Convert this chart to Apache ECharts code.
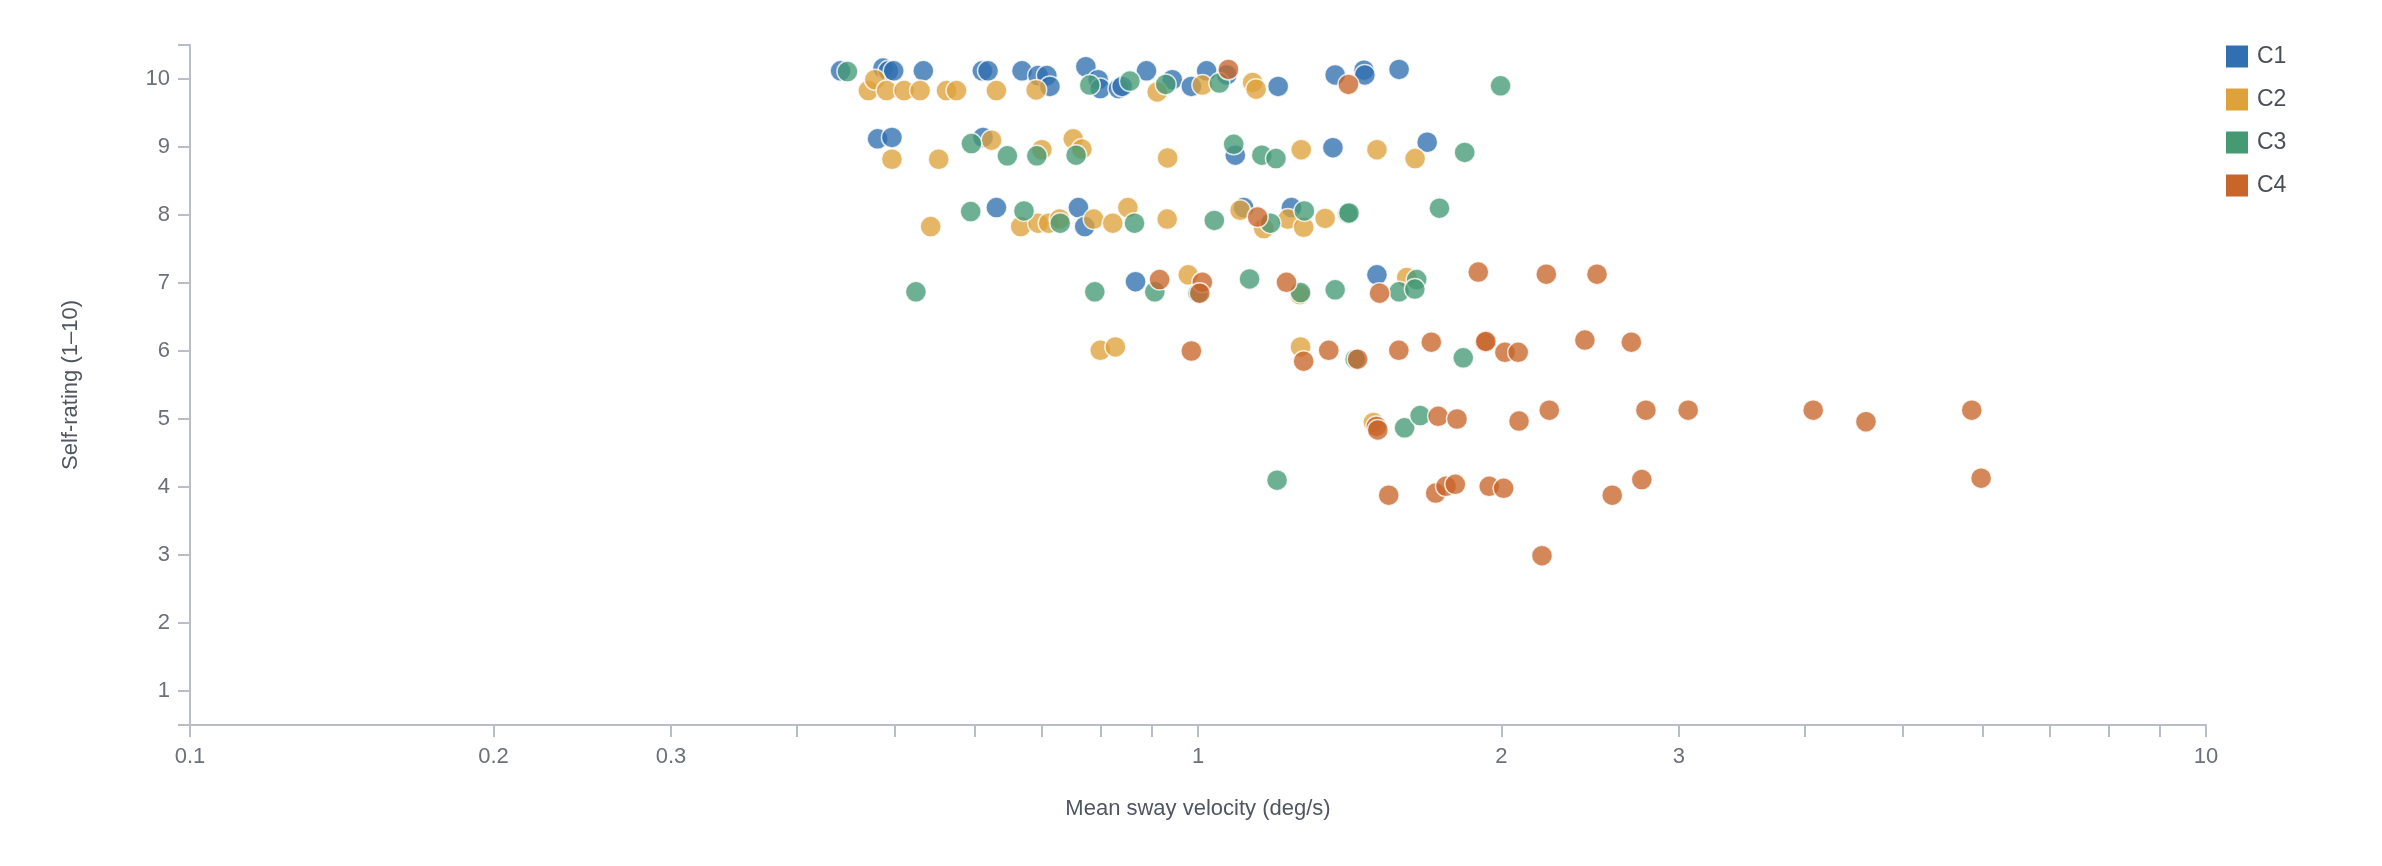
<!DOCTYPE html>
<html>
<head>
<meta charset="utf-8">
<title>Self-rating vs mean sway velocity</title>
<script src="https://cdn.jsdelivr.net/npm/echarts@6/dist/echarts.min.js"></script>
<style>
  html, body { margin: 0; padding: 0; background: #fff; }
  #chart { width: 2382px; height: 866px; }
</style>
</head>
<body>
<div id="chart"></div>
<script>
// groups shown in the legend
const seriesNames = ['C1', 'C2', 'C3', 'C4'];
const seriesColors = ['#3070b0', '#dea23a', '#459a74', '#c8652a'];

// [mean sway velocity (deg/s), self-rating]
const c1 = [
  [0.442, 10.12], [0.487, 10.16], [0.493, 10.12], [0.499, 10.12], [0.534, 10.12],
  [0.611, 10.12], [0.619, 10.12], [0.669, 10.12], [0.694, 10.05], [0.708, 10.05],
  [0.713, 9.89], [0.774, 10.18], [0.796, 9.99], [0.800, 9.86], [0.834, 9.86],
  [0.841, 9.89], [0.889, 10.12], [0.943, 9.99], [0.985, 9.89], [1.020, 10.12],
  [1.068, 10.06], [1.201, 9.89], [1.368, 10.06], [1.461, 10.13], [1.464, 10.06],
  [1.583, 10.14],
  [0.481, 9.12], [0.497, 9.14], [0.612, 9.14], [1.089, 8.88], [1.361, 8.99], [1.688, 9.07],
  [0.631, 8.11], [0.761, 8.11], [0.772, 7.83], [1.110, 8.11], [1.238, 8.11],
  [0.867, 7.02], [1.505, 7.12]
];
const c2 = [
  [0.471, 9.83], [0.478, 9.99], [0.491, 9.83], [0.511, 9.83], [0.530, 9.83],
  [0.563, 9.83], [0.576, 9.83], [0.631, 9.83], [0.691, 9.84], [0.911, 9.81],
  [1.010, 9.91], [1.133, 9.95], [1.142, 9.85],
  [0.497, 8.82], [0.553, 8.82], [0.624, 9.10], [0.700, 8.96], [0.752, 9.12],
  [0.767, 8.97], [0.933, 8.84], [1.266, 8.96], [1.505, 8.96], [1.642, 8.83],
  [0.543, 7.83], [0.667, 7.83], [0.694, 7.88], [0.711, 7.88], [0.729, 7.94],
  [0.788, 7.94], [0.823, 7.88], [0.852, 8.11], [0.932, 7.94], [1.101, 8.07],
  [1.162, 7.80], [1.228, 7.94], [1.273, 7.82], [1.337, 7.95],
  [0.978, 7.12], [1.262, 6.83], [1.611, 7.08],
  [0.800, 6.01], [0.828, 6.06], [1.264, 6.06],
  [1.493, 4.95]
];
const c3 = [
  [0.449, 10.11], [0.781, 9.91], [0.856, 9.97], [0.929, 9.92], [1.050, 9.94], [1.996, 9.90],
  [0.596, 9.05], [0.647, 8.87], [0.692, 8.87], [0.757, 8.88], [1.085, 9.04],
  [1.157, 8.88], [1.195, 8.83], [1.839, 8.92],
  [0.595, 8.05], [0.672, 8.06], [0.730, 7.88], [0.865, 7.88], [1.038, 7.92],
  [1.180, 7.88], [1.275, 8.06], [1.408, 8.02], [1.412, 8.03], [1.736, 8.10],
  [0.525, 6.87], [0.790, 6.87], [0.906, 6.87], [1.000, 6.85], [1.125, 7.06],
  [1.264, 6.86], [1.368, 6.90], [1.583, 6.87], [1.648, 7.05], [1.641, 6.91],
  [1.432, 5.88], [1.833, 5.90],
  [1.603, 4.87], [1.661, 5.05],
  [1.198, 4.10]
];
const c4 = [
  [1.072, 10.14], [1.410, 9.92],
  [1.146, 7.97],
  [0.916, 7.05], [1.010, 7.01], [1.004, 6.85], [1.224, 7.01], [1.514, 6.85],
  [1.897, 7.16], [2.216, 7.13], [2.488, 7.13],
  [0.985, 6.00], [1.273, 5.85], [1.348, 6.01], [1.440, 5.88], [1.582, 6.01],
  [1.704, 6.13], [1.926, 6.13], [1.930, 6.14], [2.016, 5.98], [2.078, 5.98],
  [2.420, 6.16], [2.691, 6.13],
  [1.503, 4.89], [1.508, 4.84], [1.731, 5.04], [1.807, 5.00], [2.082, 4.97],
  [2.231, 5.13], [2.782, 5.13], [3.064, 5.13], [4.077, 5.13], [4.599, 4.96], [5.856, 5.13],
  [1.546, 3.88], [1.721, 3.91], [1.762, 4.01], [1.800, 4.04], [1.945, 4.01],
  [2.010, 3.98], [2.576, 3.88], [2.756, 4.11], [5.983, 4.13],
  [2.194, 2.99]
];

// axis ticks
const xTickValues = [0.1, 0.2, 0.3, 0.4, 0.5, 0.6, 0.7, 0.8, 0.9, 1, 2, 3, 4, 5, 6, 7, 8, 9, 10];
const xLabelValues = [0.1, 0.2, 0.3, 1, 2, 3, 10];
const yTickValues = [0.5, 1, 2, 3, 4, 5, 6, 7, 8, 9, 10, 10.5];
const yLabelValues = [1, 2, 3, 4, 5, 6, 7, 8, 9, 10];

const fontFamily = '"Liberation Sans", Arial, sans-serif';
const axisColor = '#b9bec6';
const labelColor = '#6b7079';

let myChart = echarts.init(document.getElementById('chart'), null, { renderer: 'canvas' });

let seriesData = [c1, c2, c3, c4];

let option = {
  animation: false,
  textStyle: { fontFamily: fontFamily },
  grid: {
    left: 190,
    right: 176,
    top: 45,
    bottom: 141,
    containLabel: false
  },
  legend: {
    orient: 'vertical',
    left: 2226,
    top: 45,
    padding: 0,
    itemWidth: 22,
    itemHeight: 22,
    itemGap: 20,
    icon: 'rect',
    data: seriesNames,
    itemStyle: { opacity: 1, borderWidth: 0 },
    textStyle: {
      fontSize: 23,
      color: '#4a4f57',
      fontFamily: fontFamily,
      padding: [0, 0, 0, 4]
    }
  },
  xAxis: {
    type: 'log',
    logBase: 10,
    min: 0.1,
    max: 10,
    name: 'Mean sway velocity (deg/s)',
    nameLocation: 'middle',
    nameGap: 73,
    nameTextStyle: { fontSize: 22, color: '#50565f', fontFamily: fontFamily },
    axisLine: { show: true, lineStyle: { color: axisColor, width: 2 } },
    axisTick: {
      show: true,
      length: 12,
      customValues: xTickValues,
      lineStyle: { color: axisColor, width: 2 }
    },
    axisLabel: {
      customValues: xLabelValues,
      margin: 21,
      fontSize: 22,
      color: labelColor,
      formatter: function (v) {
        return String(parseFloat(Number(v).toPrecision(3)));
      }
    },
    splitLine: { show: false },
    minorTick: { show: false }
  },
  yAxis: {
    type: 'value',
    min: 0.5,
    max: 10.5,
    name: 'Self-rating (1–10)',
    nameLocation: 'middle',
    nameGap: 108,
    nameRotate: 90,
    nameTextStyle: { fontSize: 22, color: '#50565f', fontFamily: fontFamily },
    axisLine: { show: true, lineStyle: { color: axisColor, width: 2 } },
    axisTick: {
      show: true,
      length: 12,
      customValues: yTickValues,
      lineStyle: { color: axisColor, width: 2 }
    },
    axisLabel: {
      customValues: yLabelValues,
      margin: 20,
      fontSize: 22,
      color: labelColor
    },
    splitLine: { show: false }
  },
  series: seriesNames.map(function (name, i) {
    return {
      name: name,
      type: 'scatter',
      data: seriesData[i],
      symbol: 'circle',
      symbolSize: 21,
      itemStyle: {
        color: seriesColors[i],
        opacity: 0.78,
        borderColor: '#ffffff',
        borderWidth: 1.5
      },
      emphasis: { disabled: true }
    };
  })
};

myChart.setOption(option, true);

window.addEventListener('resize', () => {
  myChart.resize();
});
</script>
</body>
</html>
